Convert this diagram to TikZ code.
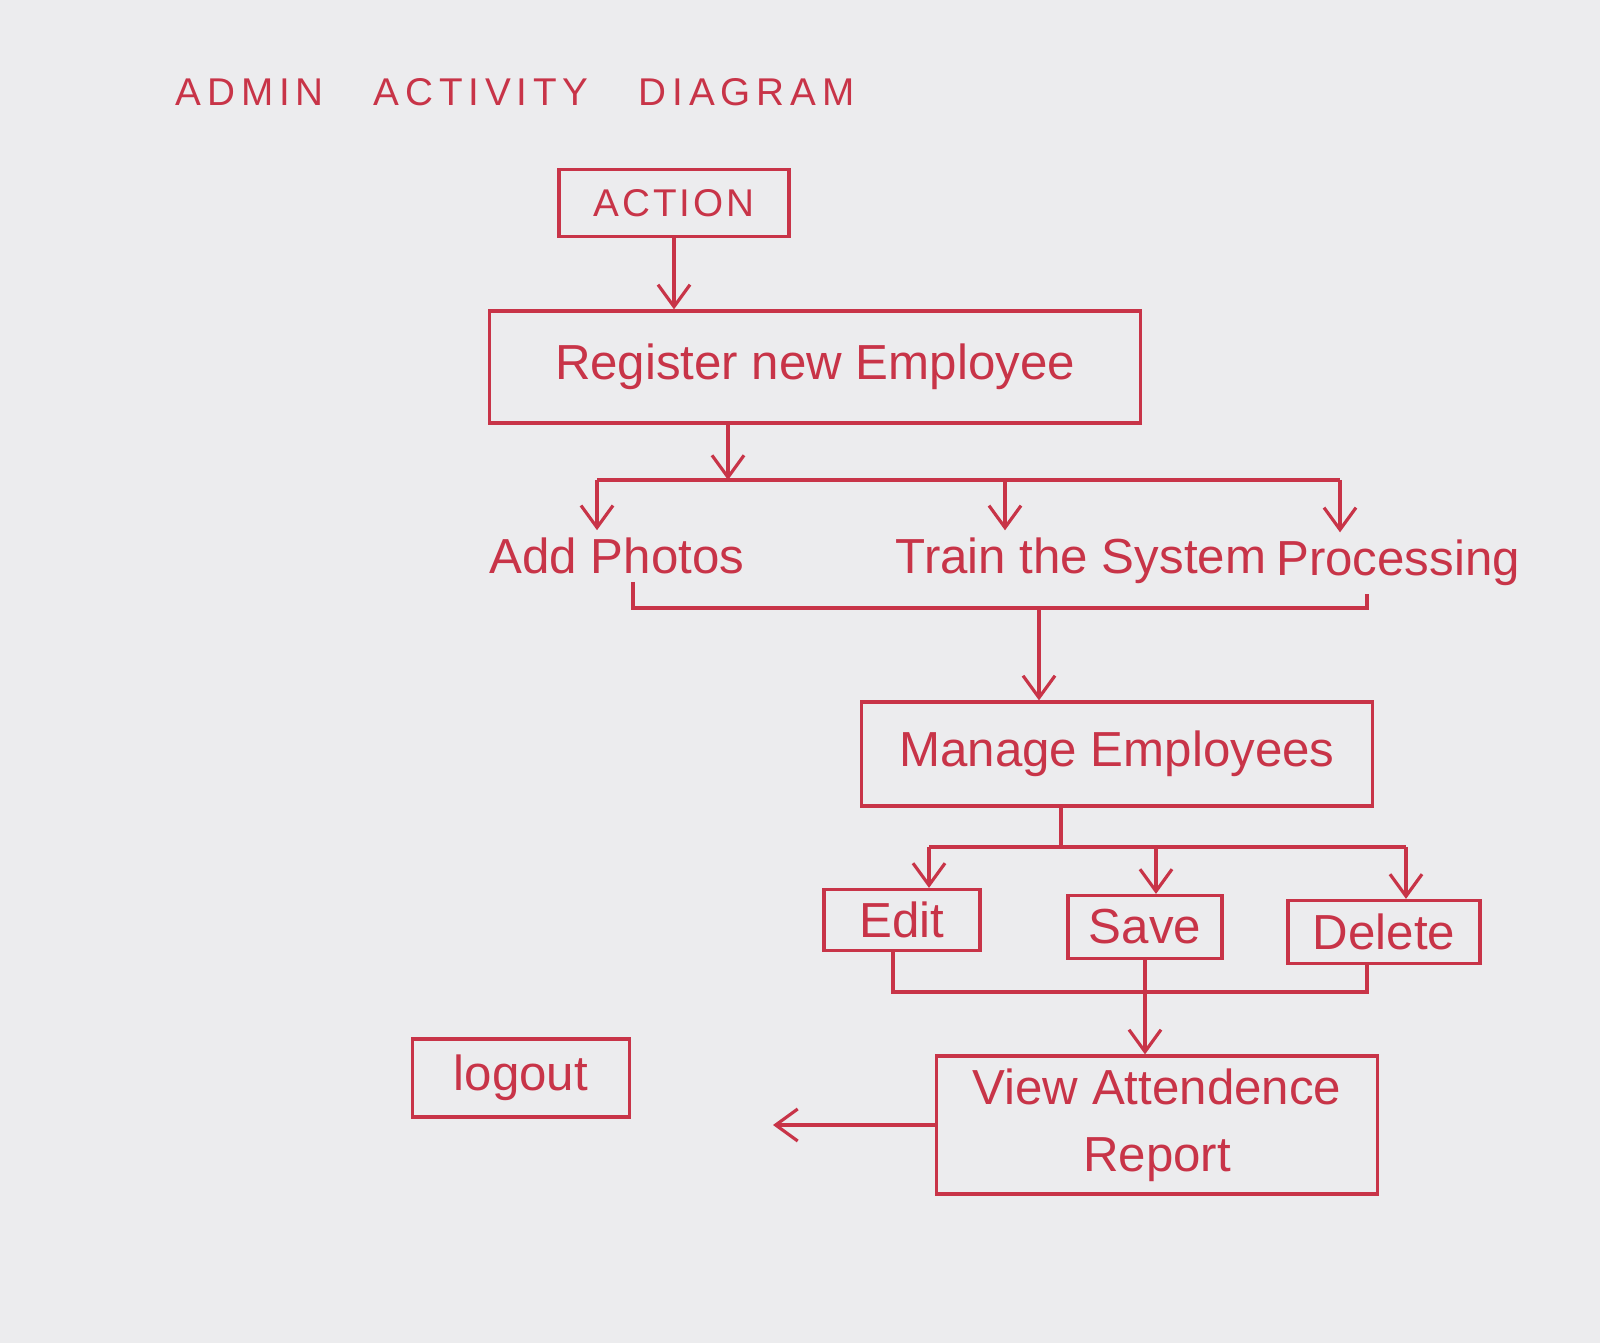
\documentclass[tikz,border=0pt]{standalone}
\usepackage{fontspec}
\setmainfont{Liberation Sans}
\usepackage{xcolor}
\usepackage{tikz}
\usetikzlibrary{arrows.meta, positioning}
\definecolor{penred}{RGB}{200,52,72}
\definecolor{paper}{RGB}{236,236,238}

\begin{document}
\begin{tikzpicture}[
    x=0.01cm, y=-0.01cm,
    box/.style={rectangle, draw=penred, line width=0.9pt, align=center, text=penred, font=\fontsize{14}{19}\selectfont, inner sep=0pt},
    lbl/.style={text=penred, font=\fontsize{14}{18}\selectfont, inner sep=2pt},
    arrow/.style={-{Straight Barb[length=2.2mm, width=3.2mm]}, draw=penred, line width=0.9pt},
    wire/.style={draw=penred, line width=0.9pt}
]
\fill[paper] (0,0) rectangle (1600,1343);
\useasboundingbox (0,0) rectangle (1600,1343);

\node[lbl, font=\fontsize{11}{13}\selectfont\addfontfeature{LetterSpace=15}] (title) at (515,92) {ADMIN\hspace{1.3em}ACTIVITY\hspace{1.3em}DIAGRAM};

\node[box, font=\fontsize{11}{13}\selectfont\addfontfeature{LetterSpace=8}, minimum width=2.3cm, minimum height=0.67cm] (action) at (674,203) {ACTION};
\node[box, minimum width=6.5cm, minimum height=1.12cm] (reg) at (815,367) {Register new Employee};

\node[lbl] (photos) at (617,556) {Add Photos};
\node[lbl] (train) at (1081,561) {Train the System};
\node[lbl] (proc) at (1398,563) {Processing};

\node[box, minimum width=5.1cm, minimum height=1.04cm] (manage) at (1117,754) {Manage Employees};

\node[box, minimum width=1.56cm, minimum height=0.61cm] (edit) at (902,920) {Edit};
\node[box, minimum width=1.54cm, minimum height=0.63cm] (save) at (1145,927) {Save};
\node[box, minimum width=1.92cm, minimum height=0.63cm] (delete) at (1384,932) {Delete};

\node[box, minimum width=4.41cm, minimum height=1.38cm] (view) at (1157,1125) {View Attendence\\Report};
\node[box, minimum width=2.17cm, minimum height=0.78cm] (logout) at (521,1078) {logout};

\coordinate (s1) at (728,480);
\coordinate (s1L) at (597,480);
\coordinate (s1M) at (1005,480);
\coordinate (s1R) at (1340,480);
\coordinate (j1) at (1039,608);
\coordinate (j1L) at (633,608);
\coordinate (j1R) at (1367,608);
\coordinate (s2) at (1061,847);
\coordinate (s2L) at (929,847);
\coordinate (s2M) at (1156,847);
\coordinate (s2R) at (1406,847);
\coordinate (j2L) at (893,992);
\coordinate (j2R) at (1367,992);
\coordinate (lgend) at (773,1125);

\draw[arrow] (action) -- (action |- reg.north);
\draw[arrow] (reg.south -| s1) -- (s1);
\draw[wire] (s1L) -- (s1R);
\draw[arrow] (s1L) -- (s1L |- photos.north);
\draw[arrow] (s1M) -- (s1M |- train.north);
\draw[arrow] (s1R) -- (s1R |- proc.north);

\draw[wire] (photos.south -| j1L) -- (j1L) -- (j1R) -- (proc.south -| j1R);
\draw[arrow] (j1) -- (j1 |- manage.north);

\draw[wire] (manage.south -| s2) -- (s2);
\draw[wire] (s2L) -- (s2R);
\draw[arrow] (s2L) -- (s2L |- edit.north);
\draw[arrow] (s2M) -- (s2M |- save.north);
\draw[arrow] (s2R) -- (s2R |- delete.north);

\draw[wire] (edit.south -| j2L) -- (j2L) -- (j2R) -- (delete.south -| j2R);
\draw[arrow] (save.south) -- (save.south |- view.north);

\draw[arrow] (view.west) -- (lgend);
\end{tikzpicture}
\end{document}
